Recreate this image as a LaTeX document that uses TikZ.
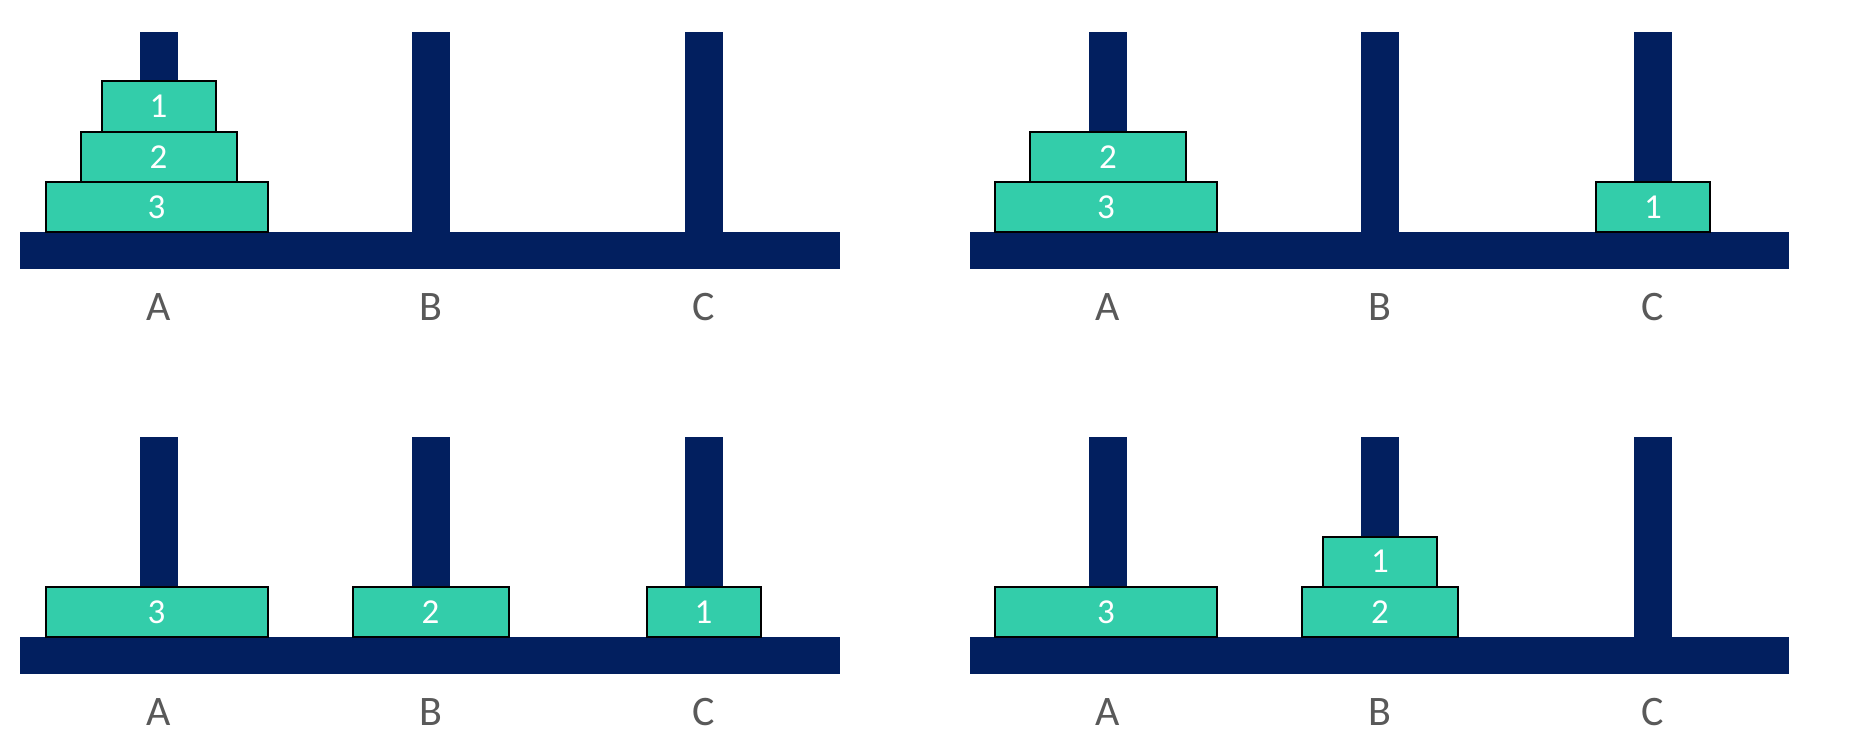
\documentclass[tikz,border=0pt]{standalone}
\usepackage{fontspec}
\setmainfont{Carlito}
\definecolor{navy}{HTML}{021F5F}
\definecolor{disccol}{HTML}{33CDAA}
\definecolor{lblgray}{HTML}{595959}
\tikzset{
  rod/.style={fill=navy, draw=none},
  disc/.style={draw=black, line width=2pt, fill=disccol, text=white, inner sep=0pt, outer sep=0pt,
    minimum height=50.4pt, anchor=south, font=\fontsize{35}{40}\selectfont},
  dA/.style={disc, minimum width=114pt},
  dB/.style={disc, minimum width=156pt},
  dC/.style={disc, minimum width=222pt, xshift=-2pt},
  lbl/.style={text=lblgray, inner sep=0pt, font=\fontsize{42}{48}\selectfont}
}
% frame of one panel: base, three pegs, three labels
\newcommand\towerframe[1]{%
  \path[rod] (119.5,-200.6) rectangle (157.5,0.5);
  \path[rod] (391.5,-200.6) rectangle (429.5,0.5);
  \path[rod] (664.5,-200.6) rectangle (702.5,0.5);
  \path[rod] (0,0) rectangle (819.5,36.5);
  \coordinate (#1pa) at (138.5,0);
  \coordinate (#1pb) at (410.5,0);
  \coordinate (#1pc) at (683.5,0);
  \node[lbl] (#1la) at (138.5,74.5) {A};
  \node[lbl] (#1lb) at (410.5,74.5) {B};
  \node[lbl] (#1lc) at (683.5,74.5) {C};
}
\begin{document}
\begin{tikzpicture}[x=1pt,y=-1pt]
\useasboundingbox (0,0) rectangle (1854,748);
\fill[white] (0,0) rectangle (1854,748);
% top left
\begin{scope}[shift={(20,232.3)}]
  \towerframe{tl}
  \node[dC] (tl3) at (tlpa) {3};
  \node[dB] (tl2) at ([xshift=2pt]tl3.north) {2};
  \node[dA] (tl1) at (tl2.north) {1};
\end{scope}
% top right
\begin{scope}[shift={(969.5,232.3)}]
  \towerframe{tr}
  \node[dC] (tr3) at (trpa) {3};
  \node[dB] (tr2) at ([xshift=2pt]tr3.north) {2};
  \node[dA] (tr1) at (trpc) {1};
\end{scope}
% bottom left
\begin{scope}[shift={(20,637.3)}]
  \towerframe{bl}
  \node[dC] (bl3) at (blpa) {3};
  \node[dB] (bl2) at (blpb) {2};
  \node[dA] (bl1) at (blpc) {1};
\end{scope}
% bottom right
\begin{scope}[shift={(969.5,637.3)}]
  \towerframe{br}
  \node[dC] (br3) at (brpa) {3};
  \node[dB] (br2) at (brpb) {2};
  \node[dA] (br1) at (br2.north) {1};
\end{scope}
\end{tikzpicture}
\end{document}
